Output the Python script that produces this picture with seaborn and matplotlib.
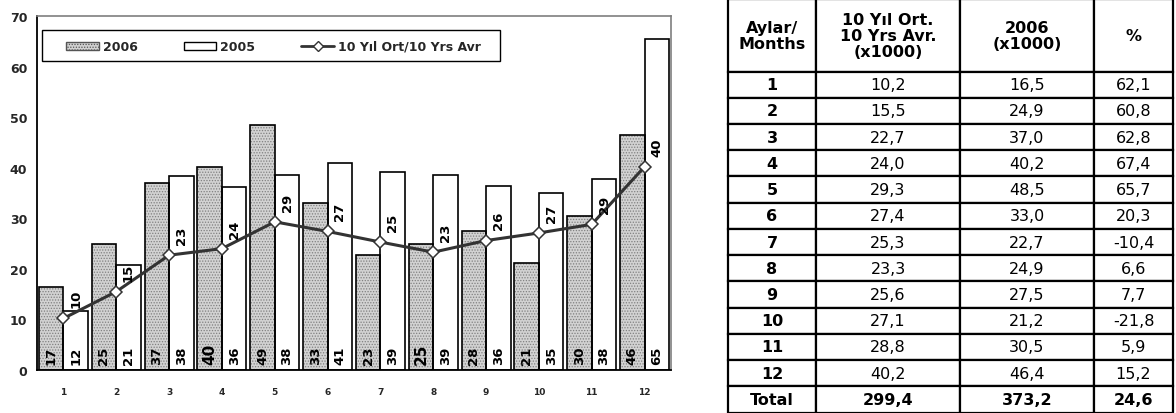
import numpy as np
import pandas as pd
import matplotlib
matplotlib.use("Agg")
import matplotlib.pyplot as plt
import seaborn as sns
from matplotlib.patches import Patch, Rectangle
from matplotlib.lines import Line2D

# ---------------- data ----------------
months = ["1", "2", "3", "4", "5", "6", "7", "8", "9", "10", "11", "12"]
y2006 = [16.5, 24.9, 37.0, 40.2, 48.5, 33.0, 22.7, 24.9, 27.5, 21.2, 30.5, 46.4]
y2005 = [11.6, 20.8, 38.3, 36.2, 38.6, 41.0, 39.2, 38.6, 36.4, 35.0, 37.8, 65.4]
avg10 = [10.2, 15.5, 22.7, 24.0, 29.3, 27.4, 25.3, 23.3, 25.6, 27.1, 28.8, 40.2]
pct = [62.1, 60.8, 62.8, 67.4, 65.7, 20.3, -10.4, 6.6, 7.7, -21.8, 5.9, 15.2]
lab2006 = ["17", "25", "37", "40", "49", "33", "23", "25", "28", "21", "30", "46"]
lab2005 = ["12", "21", "38", "36", "38", "41", "39", "39", "36", "35", "38", "65"]
labavg = ["10", "15", "23", "24", "29", "27", "25", "23", "26", "27", "29", "40"]
big_labels = {"4", "8"}  # months whose 2006 label is drawn larger
totals = ["299,4", "373,2", "24,6"]
yticks = [0, 10, 20, 30, 40, 50, 60, 70]
header = ["Aylar/\nMonths", "10 Yıl Ort.\n10 Yrs Avr.\n(x1000)", "2006\n(x1000)", "%"]
legend_labels = ["2006", "2005", "10 Yıl Ort/10 Yrs Avr"]

# ---------------- style ----------------
sns.set_theme(style="white")
plt.rcParams["font.family"] = ["DejaVu Sans"]
plt.rcParams["hatch.linewidth"] = 0.6

W, H = 1176, 414
fig = plt.figure(figsize=(W / 100, H / 100), dpi=100)
ax = fig.add_axes([37 / W, (H - 371) / H, (671 - 37) / W, (371 - 17) / H])

df = pd.DataFrame({
    "month": months * 2,
    "year": ["2006"] * 12 + ["2005"] * 12,
    "value": y2006 + y2005,
})
sns.barplot(data=df, x="month", y="value", hue="year", hue_order=["2006", "2005"],
            order=months, palette={"2006": "#d2d2d2", "2005": "white"},
            width=0.93, gap=0, legend=False, ax=ax, edgecolor="black",
            linewidth=1.2, saturation=1)

bars06 = ax.patches[:12]
bars05 = ax.patches[12:24]
for p in bars06:
    p.set_edgecolor("#808080")
    p.set_hatch("......")
    p.set_linewidth(0)
    ax.add_patch(Rectangle(p.get_xy(), p.get_width(), p.get_height(),
                           fill=False, edgecolor="black", linewidth=1.2,
                           zorder=p.get_zorder() + 0.1))

# bar labels at the base
for i, p in enumerate(bars06):
    big = months[i] in big_labels
    ax.annotate(lab2006[i], (p.get_x() + p.get_width() / 2, 0), xytext=(0, 4),
                textcoords="offset points", rotation=90, ha="center", va="bottom",
                fontsize=11 if big else 9.5, fontweight="bold", color="black", zorder=6)
for i, p in enumerate(bars05):
    ax.annotate(lab2005[i], (p.get_x() + p.get_width() / 2, 0), xytext=(0, 4),
                textcoords="offset points", rotation=90, ha="center", va="bottom",
                fontsize=9.5, fontweight="bold", color="black", zorder=6)

# 10-year average line
xs = np.arange(len(months))
sns.lineplot(x=xs, y=avg10, ax=ax, color="#333333", linewidth=2.2, marker="D",
             markersize=6.5, markerfacecolor="white", markeredgecolor="#333333",
             markeredgewidth=1.1, zorder=7)
for i, p in enumerate(bars05):
    ax.annotate(labavg[i], (p.get_x() + p.get_width() / 2, avg10[i]), xytext=(0, 8),
                textcoords="offset points", rotation=90, ha="center", va="bottom",
                fontsize=9.5, fontweight="bold", color="black", zorder=8)

ax.set_xlim(-0.5, len(months) - 0.5)
ax.set_ylim(0, 70)
ax.set_yticks(yticks)
ax.set_yticklabels([str(t) for t in yticks], fontsize=9, fontweight="bold")
ax.set_xticks(xs)
ax.set_xticklabels(months, fontsize=6.5, fontweight="bold")
ax.set_xticks(np.arange(-0.5, len(months), 1), minor=True)
ax.tick_params(axis="x", which="major", length=0, pad=12)
ax.tick_params(axis="x", which="minor", length=5, width=1.2, color="black", direction="out")
ax.tick_params(axis="y", length=4, width=1.2, color="black", direction="out", pad=3)
ax.set_xlabel("")
ax.set_ylabel("")
ax.grid(False)
for s in ["left", "bottom"]:
    ax.spines[s].set_color("black")
    ax.spines[s].set_linewidth(1.3)
for s in ["top", "right"]:
    ax.spines[s].set_color("#7f7f7f")
    ax.spines[s].set_linewidth(1.2)

# legend: framed box drawn separately, entries centred inside it
box = (0.008, 0.873, 0.722, 0.088)
ax.add_patch(Rectangle(box[:2], box[2], box[3], transform=ax.transAxes,
                       facecolor="white", edgecolor="black", linewidth=1.0,
                       zorder=9, clip_on=False))
handles = [
    Patch(facecolor="#d2d2d2", edgecolor="#555555", hatch="......", linewidth=1),
    Patch(facecolor="white", edgecolor="black", linewidth=1),
    Line2D([0], [0], color="#333333", linewidth=2, marker="D", markersize=5,
           markerfacecolor="white", markeredgecolor="#333333"),
]
leg = ax.legend(handles, legend_labels, loc="center",
                bbox_to_anchor=(box[0] + box[2] / 2 + 0.004, box[1] + box[3] / 2 - 0.003),
                ncol=3, frameon=False, prop={"size": 9, "weight": "bold"},
                handlelength=2.6, handleheight=0.6, handletextpad=0.3,
                columnspacing=3.7, borderaxespad=0, borderpad=0)
leg.set_zorder(10)

# ---------------- table ----------------
tax = fig.add_axes([728 / W, 0.5 / H, (1173 - 728) / W, 413 / H])
tax.axis("off")

def fmt(v):
    return f"{v:.1f}".replace(".", ",")

rows = [header]
for i, m in enumerate(months):
    rows.append([m, fmt(avg10[i]), fmt(y2006[i]), fmt(pct[i])])
rows.append(["Total"] + totals)

col_w = [88, 144, 134, 79]
tot_w = sum(col_w)
tbl = tax.table(cellText=rows, colWidths=[c / tot_w for c in col_w],
                cellLoc="center", bbox=[0, 0, 1, 1])
tbl.auto_set_font_size(False)
nrows = len(rows)
for (r, c), cell in tbl.get_celld().items():
    cell.set_height(72 if r == 0 else 26.2)
    cell.set_linewidth(1.6)
    cell.set_edgecolor("black")
    cell.set_facecolor("white")
    txt = cell.get_text()
    txt.set_fontsize(11.5)
    txt.set_color("black")
    if r == 0 or c == 0 or r == nrows - 1:
        txt.set_fontweight("bold")
    if r == 0:
        txt.set_linespacing(1.05)

fig.savefig("out.png", dpi=100)
